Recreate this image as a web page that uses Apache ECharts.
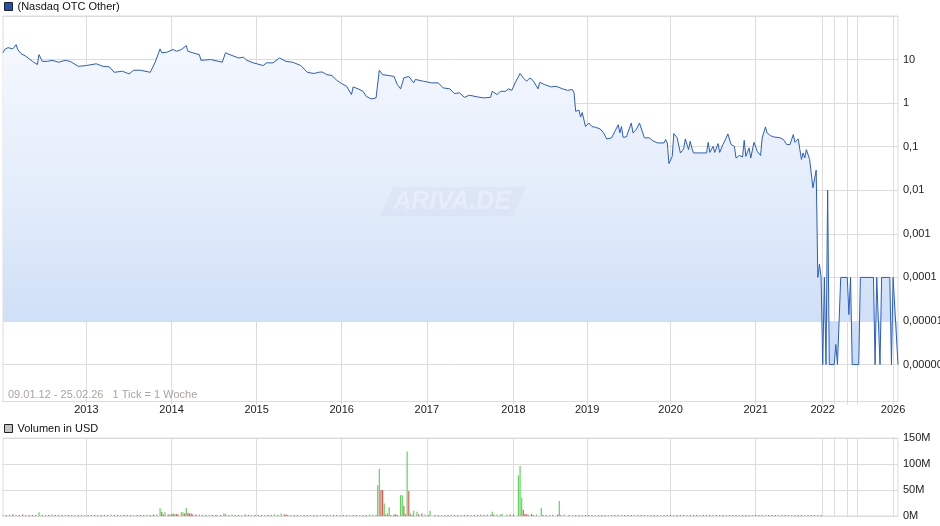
<!DOCTYPE html>
<html><head><meta charset="utf-8">
<script src="https://cdn.jsdelivr.net/npm/echarts@6/dist/echarts.min.js"></script>
<style>html,body{margin:0;padding:0;background:#fff}#c{width:940px;height:526px}</style>
</head><body><div id="c"></div>
<script>
// one category per weekly tick (1 Tick = 1 Woche)
const weekCount = 548;
const xTickIdx = [51,103,155,207,259,312,357,408,460,501,508,516,522,544];
const xTickLabels = ['2013','2014','2015','2016','2017','2018','2019','2020','2021','2022','','','','2026'];

const priceWeeks = [0,1,3,6,8,9,11,14,18,21,22,24,27,30,34,38,41,46,51,57,61,65,68,73,77,80,84,90,93,96,97,100,104,106,109,112,113,116,120,121,127,134,136,140,144,147,149,153,159,161,165,169,173,177,182,186,190,193,195,198,201,204,207,210,213,214,217,220,222,225,228,230,232,236,239,241,243,245,248,251,252,257,262,266,269,273,276,279,282,285,290,294,298,299,302,304,307,309,311,313,316,318,320,322,324,327,328,331,335,338,342,345,348,349,350,352,353,354,356,358,360,362,365,367,368,369,372,374,376,377,378,379,381,384,385,387,389,392,395,397,400,404,405,406,407,409,410,412,414,416,417,419,420,421,422,430,431,432,434,435,437,438,440,442,443,445,447,448,450,452,453,454,456,457,459,461,463,464,466,467,469,471,475,477,479,481,483,484,486,487,488,489,490,491,493,495,496,497,498,499,500,501,502,503,504,505,508,509,510,512,516,517,518,519,523,524,532,533,534,536,537,542,543,544,545,547];
const priceValues = [14.3,17,18.8,17.6,22,17,13.7,11.9,9.1,7.7,13,9.1,9.1,9.6,8.7,9.6,9.1,7.0,7.3,8.0,7.0,6.8,5.1,5.4,4.7,5.7,5.7,5.1,8.7,17.6,14.3,14.7,17,15.5,17,20.9,15.5,14.3,13,9.6,10,8.7,14.3,12.4,10.9,11.3,9.6,8.4,7.3,8.4,8.4,10.9,9.1,8.7,7.3,5.1,4.8,5.1,5.2,4.5,4.3,3.35,2.8,2.44,1.57,2.36,2.13,1.87,1.44,1.25,1.32,5.7,4.5,4.3,4.1,2.67,2.13,3.8,4.1,2.92,3.5,3.18,2.92,2.92,2.24,2.13,1.66,1.72,1.36,1.52,1.39,1.32,1.36,1.87,1.57,1.87,1.87,2.13,1.97,2.92,4.8,3.8,3.18,3.8,3.3,2.13,3.0,2.67,2.36,2.44,2.13,1.97,2.05,1.72,0.65,0.69,0.48,0.61,0.29,0.35,0.29,0.28,0.256,0.208,0.19,0.151,0.16,0.226,0.32,0.208,0.29,0.165,0.168,0.35,0.208,0.247,0.35,0.16,0.16,0.138,0.122,0.122,0.146,0.122,0.041,0.06,0.2,0.16,0.072,0.089,0.151,0.086,0.133,0.094,0.072,0.072,0.126,0.074,0.102,0.074,0.118,0.074,0.112,0.16,0.197,0.112,0.102,0.055,0.063,0.058,0.14,0.06,0.094,0.055,0.126,0.078,0.063,0.16,0.285,0.208,0.18,0.168,0.16,0.146,0.112,0.112,0.19,0.126,0.151,0.086,0.051,0.072,0.055,0.086,0.051,0.0114,0.0114,0.029,0.0001,0.0002,0.0001,0.000001,0.0001,0.000001,0.01,0.000001,0.000001,0.0000029,0.000001,0.0001,0.0001,0.000014,0.0001,0.000001,0.000001,0.0001,0.0001,0.000001,0.0001,0.000001,0.0001,0.0001,0.000001,0.0001,0.0001,0.000001];

// volume in million USD, [week tick, value]
const volUp = [[0,2],[4,3],[8,2],[14,2],[22,7],[26,2],[30,3],[38,2],[44,2],[50,2],[58,2],[66,3],[72,2],[80,2],[88,3],[94,3],[96,15],[99,7],[102,3],[105,4],[109,7],[110,7],[112,16],[120,3],[126,2],[131,2],[135,5],[136,4],[140,3],[146,2],[152,2],[160,2],[166,3],[170,5],[176,2],[182,2],[188,2],[194,2],[200,2],[206,2],[212,2],[218,2],[224,3],[226,3],[229,59],[230,91],[233,24],[235,5],[236,17],[243,40],[244,40],[247,124],[249,5],[251,10],[253,8],[258,3],[261,10],[268,2],[274,3],[280,2],[286,2],[292,3],[296,3],[299,8],[302,3],[304,3],[305,4],[308,3],[315,78],[316,96],[317,35],[321,3],[326,3],[329,16],[334,2],[340,29],[343,3],[348,2],[354,2],[362,2],[370,2],[378,2],[386,2],[394,2],[402,2],[410,2],[418,2],[426,2],[434,2],[442,2],[450,2],[458,2],[466,2],[474,2],[482,2],[490,2],[498,2]];
const volDown = [[2,2],[6,3],[10,2],[12,3],[16,2],[18,2],[20,2],[24,2],[28,2],[32,2],[34,2],[36,2],[40,2],[42,2],[46,2],[48,2],[52,2],[54,2],[56,2],[60,2],[62,2],[64,2],[68,2],[70,2],[74,2],[76,2],[78,2],[82,2],[84,2],[86,2],[90,2],[92,3],[97,8],[98,3],[101,3],[103,3],[104,5],[106,4],[107,3],[111,5],[113,6],[114,5],[115,5],[116,3],[118,3],[122,2],[124,2],[128,2],[130,2],[133,2],[138,2],[142,2],[144,2],[148,3],[150,2],[154,2],[156,2],[158,2],[162,2],[164,2],[168,2],[172,3],[173,3],[174,2],[178,2],[180,2],[184,2],[186,2],[190,2],[192,2],[196,2],[198,2],[202,2],[204,2],[208,2],[210,2],[214,2],[216,2],[220,2],[222,2],[228,2],[231,50],[232,50],[234,3],[237,2],[239,3],[240,3],[241,2],[245,19],[246,3],[248,48],[250,2],[254,3],[256,5],[260,2],[264,2],[266,2],[270,2],[272,2],[276,2],[278,2],[282,2],[284,2],[288,2],[290,2],[294,2],[298,2],[300,3],[310,3],[312,3],[318,12],[319,4],[320,3],[323,4],[324,2],[330,2],[332,2],[336,2],[339,3],[341,2],[346,2],[350,2],[352,2],[356,2],[358,2],[360,2],[364,2],[366,2],[368,2],[372,2],[374,2],[376,2],[380,2],[382,2],[384,2],[388,2],[390,2],[392,2],[396,2],[398,2],[400,2],[404,2],[406,2],[408,2],[412,2],[414,2],[416,2],[420,2],[422,2],[424,2],[428,2],[430,2],[432,2],[436,2],[438,2],[440,2],[444,2],[446,2],[448,2],[452,2],[454,2],[456,2],[460,2],[462,2],[464,2],[468,2],[470,2],[472,2],[476,2],[478,2],[480,2],[484,2],[486,2],[488,2],[492,2],[494,2],[496,2],[500,2]];

const priceYMin = 1.42e-7, priceYMax = 100;
const volYMax = 150, volYStep = 50;

const categories = Array.from({length: weekCount}, (_, i) => String(i));
const isYearTick = (i) => xTickIdx.indexOf(i) >= 0;
const grid = '#dcdcdc';
const font = 'Liberation Sans, Arial, Helvetica, sans-serif';

function fmtLog(v) {
  if (v >= 1) return String(Math.round(v));
  const d = Math.round(-Math.log10(v));
  return v.toFixed(d).replace('.', ',');
}

const chart = echarts.init(document.getElementById('c'), null, {renderer: 'canvas'});
chart.setOption({
  animation: false,
  backgroundColor: '#fff',
  textStyle: {fontFamily: font},
  title: {
    text: '09.01.12 - 25.02.26   1 Tick = 1 Woche',
    left: 8, top: 389, padding: 0,
    textStyle: {fontSize: 11, fontWeight: 'normal', color: '#aaa49f', fontFamily: font}
  },
  legend: [
    {left: 4, top: 1, padding: 0, itemWidth: 8, itemHeight: 8, selectedMode: false,
     textStyle: {fontSize: 11, color: '#111', fontFamily: font},
     data: [{name: '(Nasdaq OTC Other)', icon: 'rect', itemStyle: {color: '#1c55b5', borderColor: '#222', borderWidth: 1}}]},
    {left: 4, top: 423, padding: 0, itemWidth: 8, itemHeight: 8, selectedMode: false,
     textStyle: {fontSize: 11, color: '#111', fontFamily: font},
     data: [{name: 'Volumen in USD', icon: 'rect', itemStyle: {color: '#c4c4c4', borderColor: '#222', borderWidth: 1}}]}
  ],
  grid: [
    {left: 3, right: 42, top: 16, height: 385.5, show: true, borderColor: grid, borderWidth: 1, containLabel: false, outerBoundsMode: 'none'},
    {left: 3, right: 42, top: 438, height: 78, show: true, borderColor: grid, borderWidth: 1, containLabel: false, outerBoundsMode: 'none'}
  ],
  graphic: [
    {type: 'polygon', z: 20, silent: true, shape: {points: [[393,187],[526,187],[513,216],[380,216]]}, style: {fill: 'rgba(140,160,200,0.07)'}},
    {type: 'text', z: 21, silent: true, x: 452, y: 202, style: {text: 'ARIVA.DE', fill: 'rgba(255,255,255,0.32)', font: 'italic bold 25px ' + font, align: 'center', verticalAlign: 'middle'}}
  ],
  xAxis: [
    {type: 'category', gridIndex: 0, data: categories, boundaryGap: false,
     axisLine: {show: true, lineStyle: {color: grid}},
     axisTick: {show: true, length: 3, interval: (i) => isYearTick(i), lineStyle: {color: grid}},
     axisLabel: {show: true, interval: (i) => isYearTick(i), margin: 3, fontSize: 11, color: '#222', fontFamily: font,
       formatter: (v, i) => { const k = xTickIdx.indexOf(i); return k >= 0 ? xTickLabels[k] : ''; }},
     splitLine: {show: true, interval: (i) => isYearTick(i), lineStyle: {color: grid, width: 1}}},
    {type: 'category', gridIndex: 1, data: categories, boundaryGap: false,
     axisLine: {show: false}, axisTick: {show: false}, axisLabel: {show: false},
     splitLine: {show: true, interval: (i) => isYearTick(i), lineStyle: {color: grid, width: 1}}}
  ],
  yAxis: [
    {type: 'log', logBase: 10, gridIndex: 0, position: 'right', min: priceYMin, max: priceYMax, splitNumber: 9,
     axisLine: {show: false}, axisTick: {show: false},
     axisLabel: {margin: 5, fontSize: 11, color: '#222', fontFamily: font, formatter: fmtLog, showMinLabel: false, showMaxLabel: false},
     splitLine: {show: true, lineStyle: {color: grid, width: 1}}},
    {type: 'value', gridIndex: 1, position: 'right', min: 0, max: volYMax, interval: volYStep,
     axisLine: {show: false}, axisTick: {show: false},
     axisLabel: {margin: 5, fontSize: 11, color: '#222', fontFamily: font, formatter: (v) => v + 'M'},
     splitLine: {show: true, lineStyle: {color: grid, width: 1}}}
  ],
  series: [
    {name: '(Nasdaq OTC Other)', type: 'line', xAxisIndex: 0, yAxisIndex: 0,
     data: priceWeeks.map((w, i) => [w, priceValues[i]]),
     symbol: 'none', showSymbol: false, z: 3,
     lineStyle: {color: '#2a5ec4', width: 1},
     itemStyle: {color: '#1c55b5'},
     areaStyle: {origin: 1e-5, opacity: 1, color: {type: 'linear', x: 0, y: 16, x2: 0, y2: 401, global: true,
       colorStops: [{offset: 0, color: '#f8faff'}, {offset: 0.5, color: '#e1ebfa'}, {offset: 1, color: '#c3d7f5'}]}}},
    {name: 'Volumen in USD', type: 'bar', xAxisIndex: 1, yAxisIndex: 1, data: volUp,
     barWidth: 1.2, barGap: '-100%', itemStyle: {color: '#5cd45a'}},
    {name: 'Volumen in USD', type: 'bar', xAxisIndex: 1, yAxisIndex: 1, data: volDown,
     barWidth: 1.2, barGap: '-100%', itemStyle: {color: '#df5b5b'}}
  ]
});
</script></body></html>
